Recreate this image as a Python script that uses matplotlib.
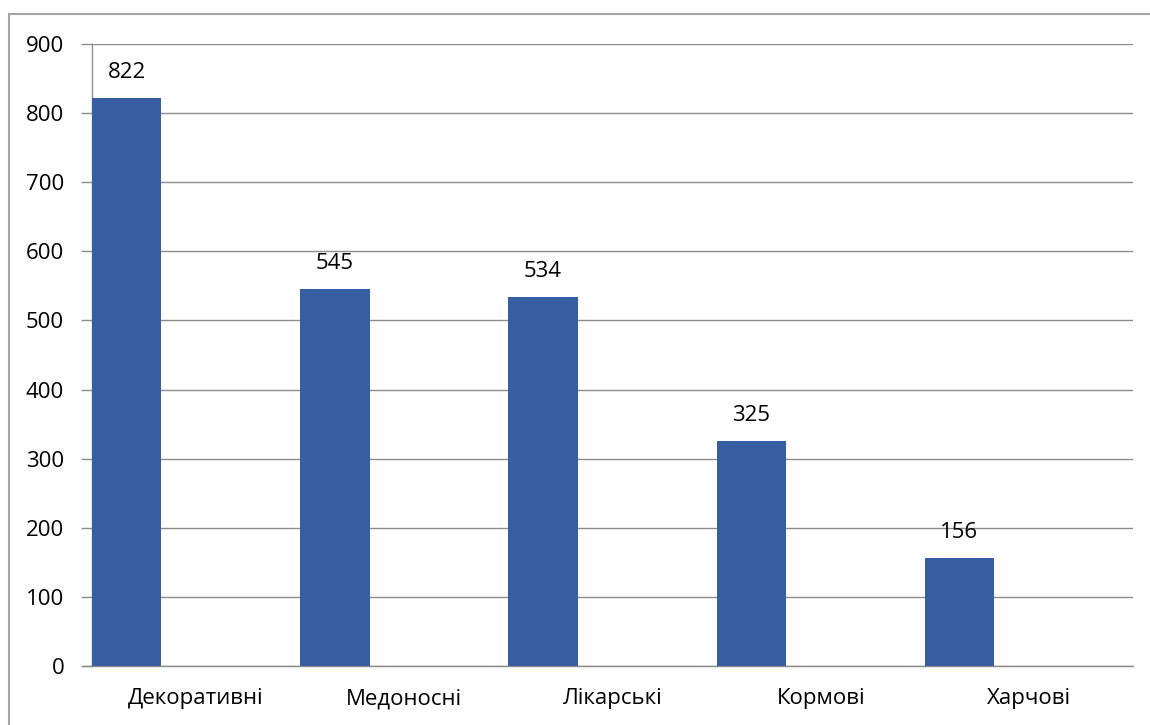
import numpy as np
import matplotlib.pyplot as plt
from matplotlib.patches import Rectangle

categories = ['Декоративні', 'Медоносні', 'Лікарські', 'Кормові', 'Харчові']
values = [822, 545, 534, 325, 156]
yticks = [0, 100, 200, 300, 400, 500, 600, 700, 800, 900]

plt.rcParams['font.family'] = ['Open Sans', 'DejaVu Sans']

fig = plt.figure(figsize=(11.5, 7.25), dpi=100)
ax = fig.add_axes([92 / 1150, 1 - 666 / 725, (1133 - 92) / 1150, (666 - 44) / 725])

# outer frame (top and left edges visible in the reference)
fig.patches.append(Rectangle((9 / 1150, -0.05), 1.2, 1 - 14 / 725 + 0.05,
                             transform=fig.transFigure, fill=False,
                             edgecolor='#a6a6a6', linewidth=1.5))

x = np.arange(len(categories))
w = 0.333
bars = ax.bar(x - 0.5 + w / 2, values, width=w, color='#375ea3', zorder=3)

for b, v in zip(bars, values):
    ax.annotate(str(v), (b.get_x() + b.get_width() / 2, v), xytext=(0, 11),
                textcoords='offset points', ha='center', va='bottom', fontsize=16)

ax.set_xlim(-0.5, len(categories) - 0.5)
ax.set_ylim(0, 900)
ax.set_yticks(yticks)
ax.set_xticks(x)
ax.set_xticklabels(categories, fontsize=16)
ax.tick_params(axis='x', length=0, pad=16)
ax.tick_params(axis='y', length=8, width=1.0, color='#8c8c8c', pad=12, labelsize=16)
ax.yaxis.grid(True, color='#8c8c8c', linewidth=1.0, zorder=0)
for s in ['top', 'right']:
    ax.spines[s].set_visible(False)
ax.spines['left'].set_color('#8c8c8c')
ax.spines['bottom'].set_color('#8c8c8c')
ax.spines['left'].set_linewidth(1.0)
ax.spines['bottom'].set_linewidth(1.0)
ax.spines['bottom'].set_bounds(-0.5 - 9 / 208, len(categories) - 0.5)
ax.spines['bottom'].set_clip_on(False)

fig.savefig('out.png', dpi=100)
